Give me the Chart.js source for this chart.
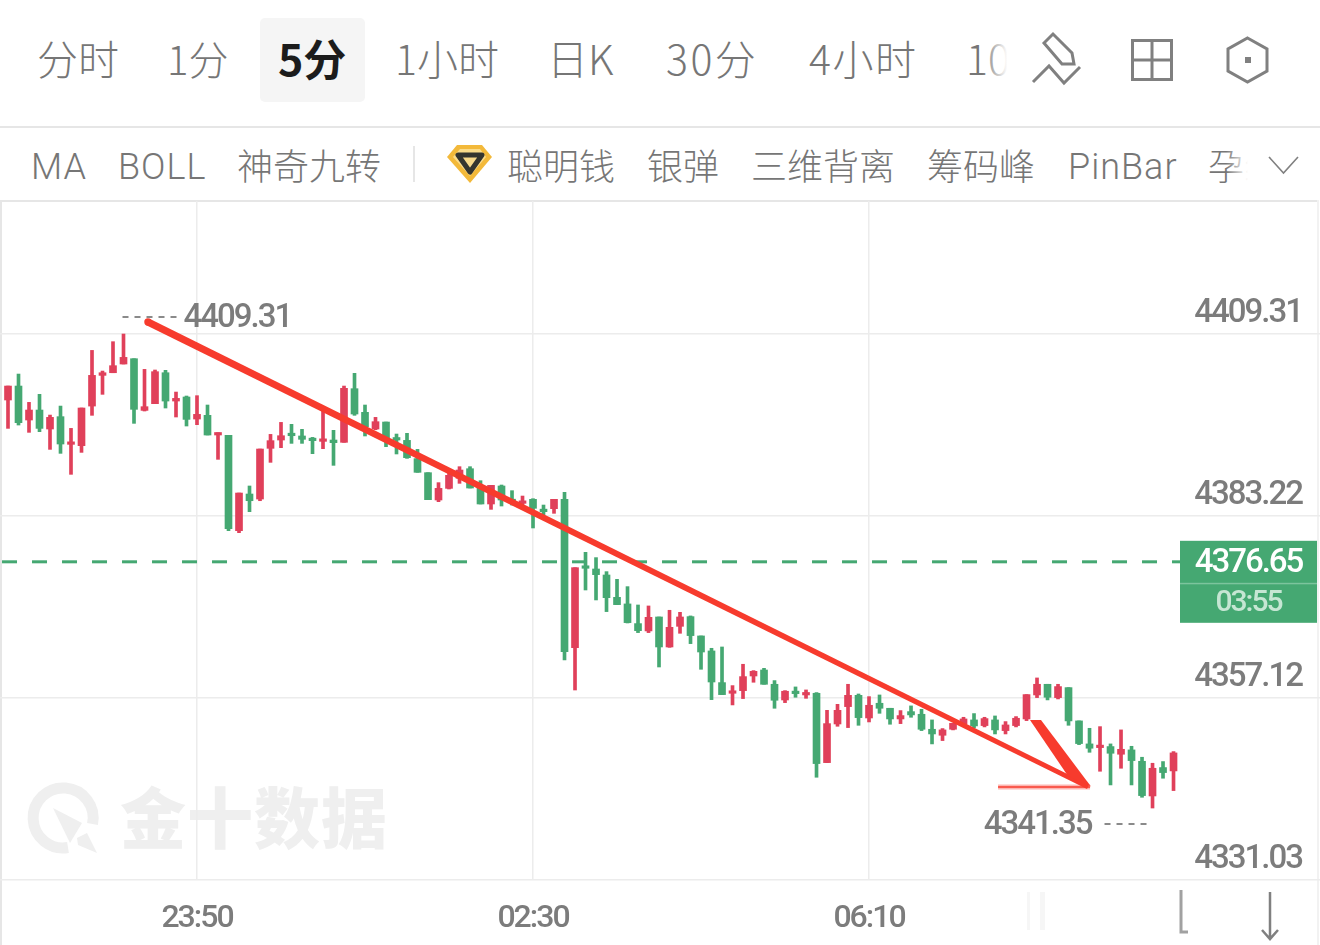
<!DOCTYPE html>
<html lang="zh">
<head>
<meta charset="utf-8">
<title>5分 K线</title>
<script src="https://cdn.jsdelivr.net/npm/chart.js@4"></script>
<style>
html,body{margin:0;padding:0;background:#fff;width:1320px;height:945px;overflow:hidden;font-family:"Noto Sans CJK SC","Noto Sans",sans-serif;}
.t{position:absolute;white-space:nowrap;line-height:1;color:#767676;font-weight:300;}
.r1{font-size:41px;top:37px;}
.r2{font-size:36px;top:146px;}
.lat{font-family:Roboto,"Noto Sans",sans-serif;letter-spacing:1px;top:149px;font-weight:300;}
.line{position:absolute;background:#e6e6e6;}
svg{position:absolute;left:0;top:0;}
canvas{position:absolute;left:0;top:0;}
</style>
</head>
<body>
<svg width="1320" height="945" style="z-index:0">
  <path d="M 68 847.5 A 30 30 0 1 1 92.5 824" fill="none" stroke="#efefef" stroke-width="11"/>
  <path d="M 53 808 L 82 823 L 70 843 Z" fill="#efefef"/>
  <path d="M 77 838 L 87 833 L 97 853 L 78 845 Z" fill="#efefef"/>
</svg>
<div class="t" style="left:120px;top:781px;font-size:66px;font-weight:900;color:#efefef;letter-spacing:1px;z-index:0">金十数据</div>

<div style="position:absolute;left:260px;top:18px;width:105px;height:84px;background:#f5f5f5;border-radius:5px"></div>
<div class="t r1" style="left:37px">分时</div>
<div class="t r1" style="left:167px;font-size:40px;top:38px">1分</div>
<div class="t r1" style="left:278px;color:#1c1c1c;font-weight:700;font-size:43px;top:36px">5分</div>
<div class="t r1" style="left:395px">1小时</div>
<div class="t r1" style="left:547px">日K</div>
<div class="t r1" style="left:666px;letter-spacing:2.5px">30分</div>
<div class="t r1" style="left:809px;letter-spacing:1.5px">4小时</div>
<div class="t r1" style="left:966px">10</div>
<div style="position:absolute;left:982px;top:30px;width:30px;height:60px;background:linear-gradient(90deg,rgba(255,255,255,0),#fff 85%)"></div>
<div class="line" style="left:0;top:126px;width:1320px;height:2px"></div>

<div class="t r2 lat" style="left:31px">MA</div>
<div class="t r2 lat" style="left:118px">BOLL</div>
<div class="t r2" style="left:237px">神奇九转</div>
<div class="line" style="left:413px;top:146px;width:2px;height:36px"></div>
<div class="t r2" style="left:507px">聪明钱</div>
<div class="t r2" style="left:647px">银弹</div>
<div class="t r2" style="left:751px">三维背离</div>
<div class="t r2" style="left:927px">筹码峰</div>
<div class="t r2 lat" style="left:1068px">PinBar</div>
<div class="t r2" style="left:1208px">孕线</div>
<div style="position:absolute;left:1226px;top:145px;width:74px;height:45px;background:linear-gradient(90deg,rgba(255,255,255,0),#fff 22px)"></div>
<div class="line" style="left:0;top:200px;width:1318px;height:2px"></div>
<div class="line" style="left:0;top:200px;width:2px;height:745px"></div>
<div class="line" style="left:1317px;top:200px;width:2px;height:745px;background:#f2f2f2"></div>

<svg width="1320" height="945" style="z-index:3;pointer-events:none">
  <polygon points="457,145 482,145 492,157 470,183 447,157" fill="#f3b93a"/>
  <polygon points="460,149 480,149 486,157 470,176 453,157" fill="#fbdc8a"/>
  <polygon points="458,155 482,155 470,172" fill="#f8d98a" stroke="#35352f" stroke-width="5" stroke-linejoin="round"/>
  <g fill="none" stroke="#808080" stroke-width="3">
    <path d="M1053 34 L1044 43 L1062 64 L1074 64 L1072 53 Z"/>
    <path d="M1033 82 L1049 66 L1064 83 L1080 67"/>
    <rect x="1132.5" y="40.5" width="39" height="39"/>
    <path d="M1152 40 V80 M1132 60 H1172"/>
    <path d="M1247.5 38 L1267 49 L1267 71 L1247.5 82 L1228 71 L1228 49 Z"/>
    <path d="M1269 157 L1283.5 173 L1298 157" stroke-width="1.6"/>
  </g>
  <rect x="1245" y="57" width="6" height="6" fill="#808080"/>
  <path d="M1181 890 V932 H1188" fill="none" stroke="#8a8a8a" stroke-width="3" opacity=".8"/>
  <path d="M1270 892 V938 M1262 930 L1270 939 L1278 930" fill="none" stroke="#808080" stroke-width="2.5"/>
  <rect x="1027" y="892" width="18" height="38" fill="#f4f4f4" opacity=".8"/>
  <rect x="1030" y="892" width="10" height="38" fill="#fff"/>
</svg>

<canvas id="c" width="1320" height="945" style="z-index:1"></canvas>

<script>
const opens=[4399.85,4401.85,4396.98,4398.41,4395.69,4397.46,4393.49,4393.30,4398.98,4403.38,4403.76,4405.01,4405.77,4398.36,4399.32,4403.76,4399.70,4400.28,4397.12,4397.65,4394.83,4394.78,4381.11,4386.37,4385.65,4392.92,4394.11,4394.92,4394.69,4394.35,4393.92,4394.11,4393.78,4401.47,4398.08,4395.69,4396.69,4394.35,4394.06,4391.44,4389.43,4385.51,4387.18,4388.62,4390.00,4387.42,4384.94,4387.52,4385.61,4385.03,4385.61,4384.08,4384.27,4385.61,4364.34,4375.96,4375.62,4374.76,4371.56,4370.61,4367.79,4366.74,4368.74,4364.44,4367.40,4368.79,4366.02,4363.87,4359.33,4357.80,4358.18,4360.28,4361.14,4359.09,4356.84,4358.04,4357.56,4357.80,4347.86,4353.40,4355.89,4357.51,4354.26,4356.37,4355.65,4354.12,4355.17,4354.79,4352.64,4351.78,4352.64,4353.41,4353.98,4353.17,4353.98,4352.45,4353.17,4354.12,4357.56,4359.09,4357.18,4358.61,4353.84,4350.54,4350.01,4350.16,4349.06,4349.68,4348.05,4343.08,4347.15,4346.67];
const highs=[4401.85,4403.57,4399.51,4400.66,4397.69,4398.98,4395.78,4398.70,4406.96,4404.00,4408.21,4409.31,4405.77,4404.24,4404.15,4404.10,4400.99,4400.42,4400.47,4399.13,4395.16,4394.78,4386.51,4387.52,4392.82,4394.92,4396.64,4396.36,4395.64,4394.49,4398.41,4395.50,4401.85,4403.67,4399.13,4397.36,4396.69,4394.97,4395.07,4392.77,4389.43,4388.00,4389.33,4390.29,4390.29,4388.28,4387.61,4387.66,4386.85,4386.08,4385.70,4384.79,4385.61,4386.61,4375.81,4378.01,4377.25,4375.24,4374.14,4373.09,4370.46,4370.32,4368.74,4369.70,4369.41,4368.89,4366.02,4364.25,4364.44,4358.90,4361.96,4361.05,4361.38,4359.62,4358.18,4358.71,4358.28,4357.90,4355.36,4356.22,4359.09,4357.70,4357.32,4357.56,4355.65,4355.32,4355.99,4355.51,4353.98,4352.74,4353.50,4354.36,4354.89,4354.36,4354.55,4353.74,4354.46,4357.61,4360.00,4359.09,4359.09,4358.61,4353.84,4352.78,4353.02,4350.54,4352.55,4350.20,4348.63,4347.77,4348.01,4349.44];
const lows=[4395.78,4396.26,4395.21,4395.31,4392.77,4392.20,4389.19,4392.34,4397.65,4400.66,4403.76,4405.01,4396.50,4398.27,4399.32,4398.70,4397.41,4396.12,4396.31,4394.83,4391.34,4381.11,4380.83,4383.84,4385.41,4390.91,4393.01,4393.63,4393.63,4392.15,4392.87,4390.48,4393.78,4397.65,4394.69,4395.59,4393.16,4392.11,4391.48,4389.48,4385.56,4385.27,4387.09,4387.90,4387.23,4384.94,4384.17,4384.65,4384.79,4384.32,4381.50,4383.36,4383.60,4362.58,4358.27,4372.61,4371.18,4369.51,4370.51,4367.88,4366.50,4366.50,4361.57,4364.39,4366.40,4364.92,4361.24,4356.89,4357.61,4356.13,4357.04,4359.38,4359.09,4355.65,4356.46,4357.23,4357.08,4345.76,4347.86,4353.07,4352.88,4353.21,4353.69,4354.93,4353.36,4353.45,4354.36,4352.45,4350.54,4351.02,4352.55,4353.17,4352.83,4352.98,4351.97,4351.97,4352.98,4353.88,4357.18,4356.85,4356.99,4353.21,4350.44,4349.34,4346.62,4344.66,4347.05,4344.66,4342.89,4341.35,4345.62,4343.85];
const closes=[4401.85,4396.60,4398.41,4395.78,4397.36,4393.54,4393.78,4398.70,4403.38,4403.76,4404.77,4405.96,4398.51,4398.89,4403.91,4399.70,4400.08,4397.07,4397.79,4394.83,4395.07,4381.40,4386.51,4385.41,4392.82,4394.02,4394.73,4394.73,4394.21,4394.02,4394.06,4393.73,4401.52,4397.84,4396.02,4396.74,4394.11,4394.11,4391.58,4389.48,4385.56,4387.18,4389.05,4389.81,4387.23,4384.94,4387.61,4385.51,4385.27,4385.27,4384.32,4383.84,4385.61,4363.77,4375.81,4375.72,4374.81,4371.51,4370.51,4367.93,4366.78,4368.69,4364.44,4367.26,4368.74,4366.07,4363.72,4359.42,4357.61,4358.09,4360.19,4360.95,4359.09,4356.80,4358.09,4357.75,4357.80,4347.72,4353.45,4355.36,4357.51,4354.31,4356.08,4355.65,4354.12,4354.60,4354.70,4352.64,4351.97,4352.55,4353.50,4354.12,4353.12,4354.17,4352.55,4353.26,4354.22,4357.61,4359.09,4357.23,4358.76,4353.84,4350.59,4349.92,4350.11,4349.20,4349.77,4348.15,4343.13,4347.05,4346.43,4349.25];

const yTickValues=[4409.31,4383.22,4357.12,4331.03];
const xTickIndex=[18,50,82];
const xTickLabels=["23:50","02:30","06:10"];
const lastPrice=4376.65;
const countdown="03:55";
const highLabel="4409.31";
const lowLabel="4341.35";
const highIndex=11;
const lowIndex=109;
const trendIdx=[13.33,102.86];
const trendPrice=[4411.03,4344.37];
const hookIdx=[97.33,98.38,103.14,100.95];
const hookPrice=[4353.98,4353.98,4344.44,4345.95];
const baseIdx=[94.29,103.05];
const basePrice=[4344.37,4344.37];
const dashIdx=[-0.57,111.62];

const RED="#e0405a", GREEN="#45a872", ARROW="#f73b2d", TXT="#7c7c7c";
const NUMFONT='Roboto,sans-serif';
const xs=opens.map((_,i)=>i);
const barColors=xs.map(i=>closes[i]>=opens[i]?RED:GREEN);

const overlay={
  id:"overlay",
  beforeDraw(chart){chart.ctx.letterSpacing="-2px";},
  afterDatasetsDraw(chart){
    const {ctx,scales:{x,y}}=chart;
    ctx.save();
    // thin base line of the arrow
    ctx.strokeStyle="rgba(250,70,60,.4)";ctx.lineWidth=5;
    ctx.beginPath();ctx.moveTo(x.getPixelForValue(baseIdx[0]),y.getPixelForValue(basePrice[0]));
    ctx.lineTo(x.getPixelForValue(baseIdx[1]),y.getPixelForValue(basePrice[1]));ctx.stroke();
    ctx.strokeStyle=ARROW;ctx.lineWidth=1.5;ctx.stroke();
    // tapered trend stroke
    const x0=x.getPixelForValue(trendIdx[0]),y0=y.getPixelForValue(trendPrice[0]);
    const x1=x.getPixelForValue(trendIdx[1]),y1=y.getPixelForValue(trendPrice[1]);
    const len=Math.hypot(x1-x0,y1-y0),nx=-(y1-y0)/len,ny=(x1-x0)/len,w0=3.7,w1=2.4;
    ctx.fillStyle=ARROW;
    ctx.beginPath();
    ctx.moveTo(x0+nx*w0,y0+ny*w0);ctx.lineTo(x1+nx*w1,y1+ny*w1);
    ctx.lineTo(x1-nx*w1,y1-ny*w1);ctx.lineTo(x0-nx*w0,y0-ny*w0);ctx.closePath();ctx.fill();
    ctx.beginPath();ctx.arc(x0,y0,w0,0,Math.PI*2);ctx.fill();
    // hook wedge
    ctx.beginPath();
    hookIdx.forEach((v,i)=>{const px=x.getPixelForValue(v),py=y.getPixelForValue(hookPrice[i]);i?ctx.lineTo(px,py):ctx.moveTo(px,py);});
    ctx.closePath();ctx.fill();
    // high / low labels
    ctx.font='500 33px '+NUMFONT;ctx.fillStyle=TXT;ctx.strokeStyle="#8a8a8a";ctx.lineWidth=2;
    ctx.textBaseline="middle";
    const hx=x.getPixelForValue(highIndex),hy=y.getPixelForValue(highs[highIndex])-17;
    ctx.setLineDash([6,6]);
    ctx.beginPath();ctx.moveTo(hx-1,hy);ctx.lineTo(hx+54,hy);ctx.stroke();
    ctx.textAlign="left";ctx.fillText(highLabel,hx+60,hy+2);
    const lx=x.getPixelForValue(lowIndex),ly=y.getPixelForValue(lows[lowIndex])+16;
    ctx.beginPath();ctx.moveTo(lx-48,ly);ctx.lineTo(lx-5,ly);ctx.stroke();
    ctx.textAlign="right";ctx.fillText(lowLabel,lx-61,ly+2);
    ctx.setLineDash([]);
    // last price tag
    const py=y.getPixelForValue(lastPrice);
    ctx.fillStyle=GREEN;ctx.fillRect(1180,py-21,137,82);
    ctx.fillStyle="#7cc49d";ctx.fillRect(1180,py+21,137,1.5);
    ctx.textAlign="center";ctx.fillStyle="#fff";ctx.fillText(lastPrice.toFixed(2),1248.5,py+2);
    ctx.font='500 30px '+NUMFONT;ctx.fillStyle="#c5e6d3";ctx.fillText(countdown,1248.5,py+42);
    ctx.restore();
  }
};

new Chart(document.getElementById("c"),{
  type:"bar",
  data:{datasets:[
    {type:"line",label:"现价",data:dashIdx.map(v=>({x:v,y:lastPrice})),borderColor:GREEN,borderWidth:3,borderDash:[15,15],pointRadius:0,order:5},
    {label:"影线",data:xs.map(i=>({x:i,y:[lows[i],highs[i]]})),backgroundColor:barColors,barThickness:3,order:2},
    {label:"实体",data:xs.map(i=>({x:i,y:[opens[i],closes[i]]})),backgroundColor:barColors,barThickness:7,minBarLength:2.5,order:1}
  ]},
  options:{
    responsive:false,animation:false,
    layout:{padding:{top:201,left:0,right:0,bottom:0}},
    plugins:{legend:{display:false},tooltip:{enabled:false}},
    datasets:{bar:{grouped:false}},
    scales:{
      x:{type:"linear",offset:false,min:-0.762,max:124.95,position:"bottom",
        afterBuildTicks(s){s.ticks=xTickIndex.map(v=>({value:v}));},
        afterFit(s){s.height=65;},
        grid:{offset:false,color:"#ececec",lineWidth:1.5,drawTicks:false},
        border:{display:false},
        ticks:{autoSkip:false,maxRotation:0,padding:20,color:TXT,font:{family:NUMFONT,size:32,weight:"500"},
          callback(v){return xTickLabels[xTickIndex.indexOf(v)];}}
      },
      y:{type:"linear",min:4331.03,max:4428.38,position:"right",
        afterBuildTicks(s){s.ticks=yTickValues.map(v=>({value:v}));},
        afterFit(s){s.width=0;},
        grid:{color:"#ececec",lineWidth:1.5,drawTicks:false},
        border:{display:false},
        ticks:{autoSkip:false,mirror:true,padding:-18,labelOffset:-20,color:TXT,font:{family:NUMFONT,size:33,weight:"500"},
          callback(v){return v.toFixed(2);}}
      }
    }
  },
  plugins:[overlay]
});
</script>
</body>
</html>
